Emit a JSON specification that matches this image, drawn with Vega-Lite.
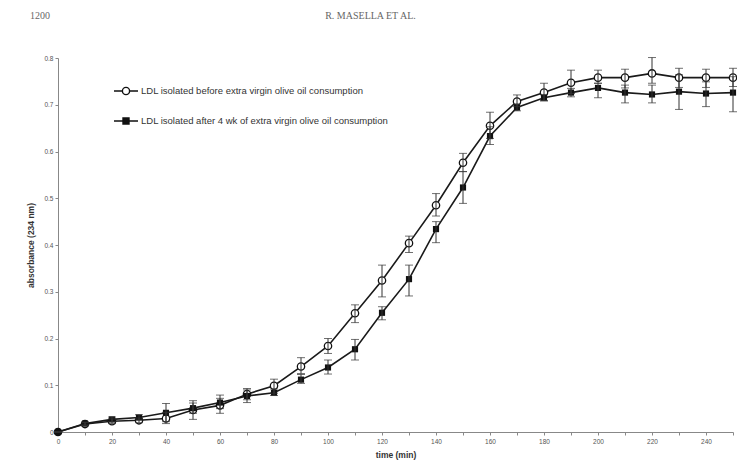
{
  "$schema": "https://vega.github.io/schema/vega-lite/v6.json",
  "width": 675,
  "height": 374,
  "autosize": "none",
  "padding": {"left": 58, "top": 58, "right": 4, "bottom": 29},
  "background": "white",
  "title": {"text": "1200", "anchor": "start", "frame": "group", "dx": -28, "dy": 15, "font": "Liberation Serif", "fontSize": 10, "fontWeight": "normal", "color": "#666", "offset": 4},
  "config": {
    "view": {"stroke": null},
    "font": "Liberation Sans",
    "axis": {"grid": false, "domainColor": "#888", "tickColor": "#888", "labelColor": "#555", "labelFontSize": 6.5, "titleFontSize": 8.5, "titleFontWeight": "bold", "titleColor": "#333", "tickSize": 3, "domainWidth": 1}
  },
  "data": {"values": [
    {"t":0,"s":"LDL isolated before extra virgin olive oil consumption","y":0,"lo":0,"hi":0},
    {"t":10,"s":"LDL isolated before extra virgin olive oil consumption","y":0.017,"lo":0.014,"hi":0.020},
    {"t":20,"s":"LDL isolated before extra virgin olive oil consumption","y":0.023,"lo":0.018,"hi":0.028},
    {"t":30,"s":"LDL isolated before extra virgin olive oil consumption","y":0.025,"lo":0.020,"hi":0.030},
    {"t":40,"s":"LDL isolated before extra virgin olive oil consumption","y":0.029,"lo":0.018,"hi":0.042},
    {"t":50,"s":"LDL isolated before extra virgin olive oil consumption","y":0.047,"lo":0.027,"hi":0.062},
    {"t":60,"s":"LDL isolated before extra virgin olive oil consumption","y":0.057,"lo":0.040,"hi":0.072},
    {"t":70,"s":"LDL isolated before extra virgin olive oil consumption","y":0.081,"lo":0.069,"hi":0.093},
    {"t":80,"s":"LDL isolated before extra virgin olive oil consumption","y":0.099,"lo":0.083,"hi":0.113},
    {"t":90,"s":"LDL isolated before extra virgin olive oil consumption","y":0.140,"lo":0.125,"hi":0.159},
    {"t":100,"s":"LDL isolated before extra virgin olive oil consumption","y":0.184,"lo":0.168,"hi":0.200},
    {"t":110,"s":"LDL isolated before extra virgin olive oil consumption","y":0.254,"lo":0.234,"hi":0.272},
    {"t":120,"s":"LDL isolated before extra virgin olive oil consumption","y":0.324,"lo":0.289,"hi":0.357},
    {"t":130,"s":"LDL isolated before extra virgin olive oil consumption","y":0.404,"lo":0.384,"hi":0.419},
    {"t":140,"s":"LDL isolated before extra virgin olive oil consumption","y":0.485,"lo":0.462,"hi":0.510},
    {"t":150,"s":"LDL isolated before extra virgin olive oil consumption","y":0.576,"lo":0.557,"hi":0.596},
    {"t":160,"s":"LDL isolated before extra virgin olive oil consumption","y":0.655,"lo":0.628,"hi":0.684},
    {"t":170,"s":"LDL isolated before extra virgin olive oil consumption","y":0.707,"lo":0.696,"hi":0.721},
    {"t":180,"s":"LDL isolated before extra virgin olive oil consumption","y":0.726,"lo":0.709,"hi":0.746},
    {"t":190,"s":"LDL isolated before extra virgin olive oil consumption","y":0.747,"lo":0.724,"hi":0.774},
    {"t":200,"s":"LDL isolated before extra virgin olive oil consumption","y":0.758,"lo":0.746,"hi":0.774},
    {"t":210,"s":"LDL isolated before extra virgin olive oil consumption","y":0.758,"lo":0.736,"hi":0.776},
    {"t":220,"s":"LDL isolated before extra virgin olive oil consumption","y":0.767,"lo":0.746,"hi":0.801},
    {"t":230,"s":"LDL isolated before extra virgin olive oil consumption","y":0.758,"lo":0.737,"hi":0.778},
    {"t":240,"s":"LDL isolated before extra virgin olive oil consumption","y":0.758,"lo":0.737,"hi":0.776},
    {"t":250,"s":"LDL isolated before extra virgin olive oil consumption","y":0.758,"lo":0.739,"hi":0.778},
    {"t":0,"s":"LDL isolated after 4 wk of extra virgin olive oil consumption","y":0,"lo":0,"hi":0},
    {"t":10,"s":"LDL isolated after 4 wk of extra virgin olive oil consumption","y":0.018,"lo":0.015,"hi":0.021},
    {"t":20,"s":"LDL isolated after 4 wk of extra virgin olive oil consumption","y":0.027,"lo":0.022,"hi":0.032},
    {"t":30,"s":"LDL isolated after 4 wk of extra virgin olive oil consumption","y":0.031,"lo":0.026,"hi":0.037},
    {"t":40,"s":"LDL isolated after 4 wk of extra virgin olive oil consumption","y":0.041,"lo":0.022,"hi":0.061},
    {"t":50,"s":"LDL isolated after 4 wk of extra virgin olive oil consumption","y":0.051,"lo":0.040,"hi":0.067},
    {"t":60,"s":"LDL isolated after 4 wk of extra virgin olive oil consumption","y":0.063,"lo":0.050,"hi":0.079},
    {"t":70,"s":"LDL isolated after 4 wk of extra virgin olive oil consumption","y":0.077,"lo":0.063,"hi":0.090},
    {"t":80,"s":"LDL isolated after 4 wk of extra virgin olive oil consumption","y":0.084,"lo":0.078,"hi":0.092},
    {"t":90,"s":"LDL isolated after 4 wk of extra virgin olive oil consumption","y":0.112,"lo":0.104,"hi":0.123},
    {"t":100,"s":"LDL isolated after 4 wk of extra virgin olive oil consumption","y":0.138,"lo":0.124,"hi":0.154},
    {"t":110,"s":"LDL isolated after 4 wk of extra virgin olive oil consumption","y":0.177,"lo":0.154,"hi":0.198},
    {"t":120,"s":"LDL isolated after 4 wk of extra virgin olive oil consumption","y":0.255,"lo":0.240,"hi":0.268},
    {"t":130,"s":"LDL isolated after 4 wk of extra virgin olive oil consumption","y":0.327,"lo":0.291,"hi":0.357},
    {"t":140,"s":"LDL isolated after 4 wk of extra virgin olive oil consumption","y":0.434,"lo":0.405,"hi":0.450},
    {"t":150,"s":"LDL isolated after 4 wk of extra virgin olive oil consumption","y":0.523,"lo":0.489,"hi":0.557},
    {"t":160,"s":"LDL isolated after 4 wk of extra virgin olive oil consumption","y":0.633,"lo":0.615,"hi":0.653},
    {"t":170,"s":"LDL isolated after 4 wk of extra virgin olive oil consumption","y":0.694,"lo":0.687,"hi":0.702},
    {"t":180,"s":"LDL isolated after 4 wk of extra virgin olive oil consumption","y":0.715,"lo":0.708,"hi":0.722},
    {"t":190,"s":"LDL isolated after 4 wk of extra virgin olive oil consumption","y":0.726,"lo":0.717,"hi":0.735},
    {"t":200,"s":"LDL isolated after 4 wk of extra virgin olive oil consumption","y":0.736,"lo":0.715,"hi":0.746},
    {"t":210,"s":"LDL isolated after 4 wk of extra virgin olive oil consumption","y":0.726,"lo":0.704,"hi":0.742},
    {"t":220,"s":"LDL isolated after 4 wk of extra virgin olive oil consumption","y":0.722,"lo":0.704,"hi":0.742},
    {"t":230,"s":"LDL isolated after 4 wk of extra virgin olive oil consumption","y":0.728,"lo":0.690,"hi":0.764},
    {"t":240,"s":"LDL isolated after 4 wk of extra virgin olive oil consumption","y":0.724,"lo":0.696,"hi":0.749},
    {"t":250,"s":"LDL isolated after 4 wk of extra virgin olive oil consumption","y":0.726,"lo":0.685,"hi":0.760}
  ]},
  "resolve": {"axis": {"x": "independent"}},
  "layer": [
    {
      "mark": {"type": "line", "color": "#1a1a1a", "strokeWidth": 1.6},
      "encoding": {
        "x": {"field": "t", "type": "quantitative", "scale": {"domain": [0, 250], "nice": false},
              "axis": {"title": "time (min)", "values": [0,10,20,30,40,50,60,70,80,90,100,110,120,130,140,150,160,170,180,190,200,210,220,230,240,250],
                       "labelExpr": "datum.value % 20 === 0 && datum.value < 250 ? datum.label : ''", "labelPadding": 3, "titlePadding": 6, "labelFlush": false}},
        "y": {"field": "y", "type": "quantitative", "title": "absorbance (234 nm)", "scale": {"domain": [0, 0.8], "nice": false},
              "axis": {"values": [0,0.1,0.2,0.3,0.4,0.5,0.6,0.7,0.8], "format": ".1~f", "labelPadding": 2, "titlePadding": 8}},
        "detail": {"field": "s"}
      }
    },
    {
      "transform": [{"filter": "datum.s === 'LDL isolated before extra virgin olive oil consumption'"}],
      "mark": {"type": "point", "shape": "circle", "filled": false, "fill": "white", "size": 54, "stroke": "#111", "strokeWidth": 1.3, "opacity": 1},
      "encoding": {
        "x": {"field": "t", "type": "quantitative",
              "axis": {"orient": "top", "domain": false, "ticks": false, "labels": false, "title": "R. MASELLA ET AL.", "titleX": 312, "titleY": -43, "titleBaseline": "middle", "titleFont": "Liberation Serif", "titleFontSize": 10, "titleFontWeight": "normal", "titleColor": "#666"}},
        "y": {"field": "y", "type": "quantitative", "title": "absorbance (234 nm)"}
      }
    },
    {
      "transform": [{"filter": "datum.s === 'LDL isolated after 4 wk of extra virgin olive oil consumption'"}],
      "mark": {"type": "point", "shape": "square", "filled": true, "color": "#111", "size": 38, "opacity": 1},
      "encoding": {
        "x": {"field": "t", "type": "quantitative", "axis": null},
        "y": {"field": "y", "type": "quantitative", "title": "absorbance (234 nm)"}
      }
    },
    {
      "mark": {"type": "errorbar", "ticks": {"size": 8, "thickness": 1, "color": "#333"}, "rule": {"color": "#333", "strokeWidth": 1}},
      "encoding": {
        "x": {"field": "t", "type": "quantitative", "axis": null},
        "y": {"field": "lo", "type": "quantitative", "title": "absorbance (234 nm)"},
        "y2": {"field": "hi"}
      }
    },
    {
      "transform": [{"filter": "false"}],
      "mark": {"type": "point", "filled": false, "stroke": "#111", "strokeWidth": 1.4, "opacity": 1},
      "encoding": {
        "x": {"field": "t", "type": "quantitative", "axis": null},
        "y": {"field": "y", "type": "quantitative", "title": "absorbance (234 nm)"},
        "shape": {"field": "s", "type": "nominal",
                  "scale": {"domain": ["LDL isolated before extra virgin olive oil consumption", "LDL isolated after 4 wk of extra virgin olive oil consumption"],
                            "range": ["M-1,0H-0.3M0.3,0H1M-0.3,0A0.3,0.3,0,1,0,0.3,0A0.3,0.3,0,1,0,-0.3,0", "M-1,0H-0.25M0.25,0H1M-0.25,-0.25H0.25V0.25H-0.25Z"]},
                  "legend": {"orient": "none", "legendX": 55, "legendY": 20, "title": null, "symbolSize": 576, "symbolStrokeWidth": 1.4, "symbolOpacity": 1, "labelFont": "Liberation Sans", "labelFontSize": 9.5, "labelColor": "#333", "labelOffset": 2, "rowPadding": 10, "labelLimit": 400, "padding": 0}},
        "fill": {"field": "s", "type": "nominal",
                 "scale": {"domain": ["LDL isolated before extra virgin olive oil consumption", "LDL isolated after 4 wk of extra virgin olive oil consumption"], "range": ["white", "#111"]},
                 "legend": {"orient": "none", "legendX": 55, "legendY": 20, "title": null, "symbolSize": 576, "symbolStrokeWidth": 1.4, "symbolOpacity": 1, "labelFont": "Liberation Sans", "labelFontSize": 9.5, "labelColor": "#333", "labelOffset": 2, "rowPadding": 10, "labelLimit": 400, "padding": 0}}
      }
    }
  ]
}
